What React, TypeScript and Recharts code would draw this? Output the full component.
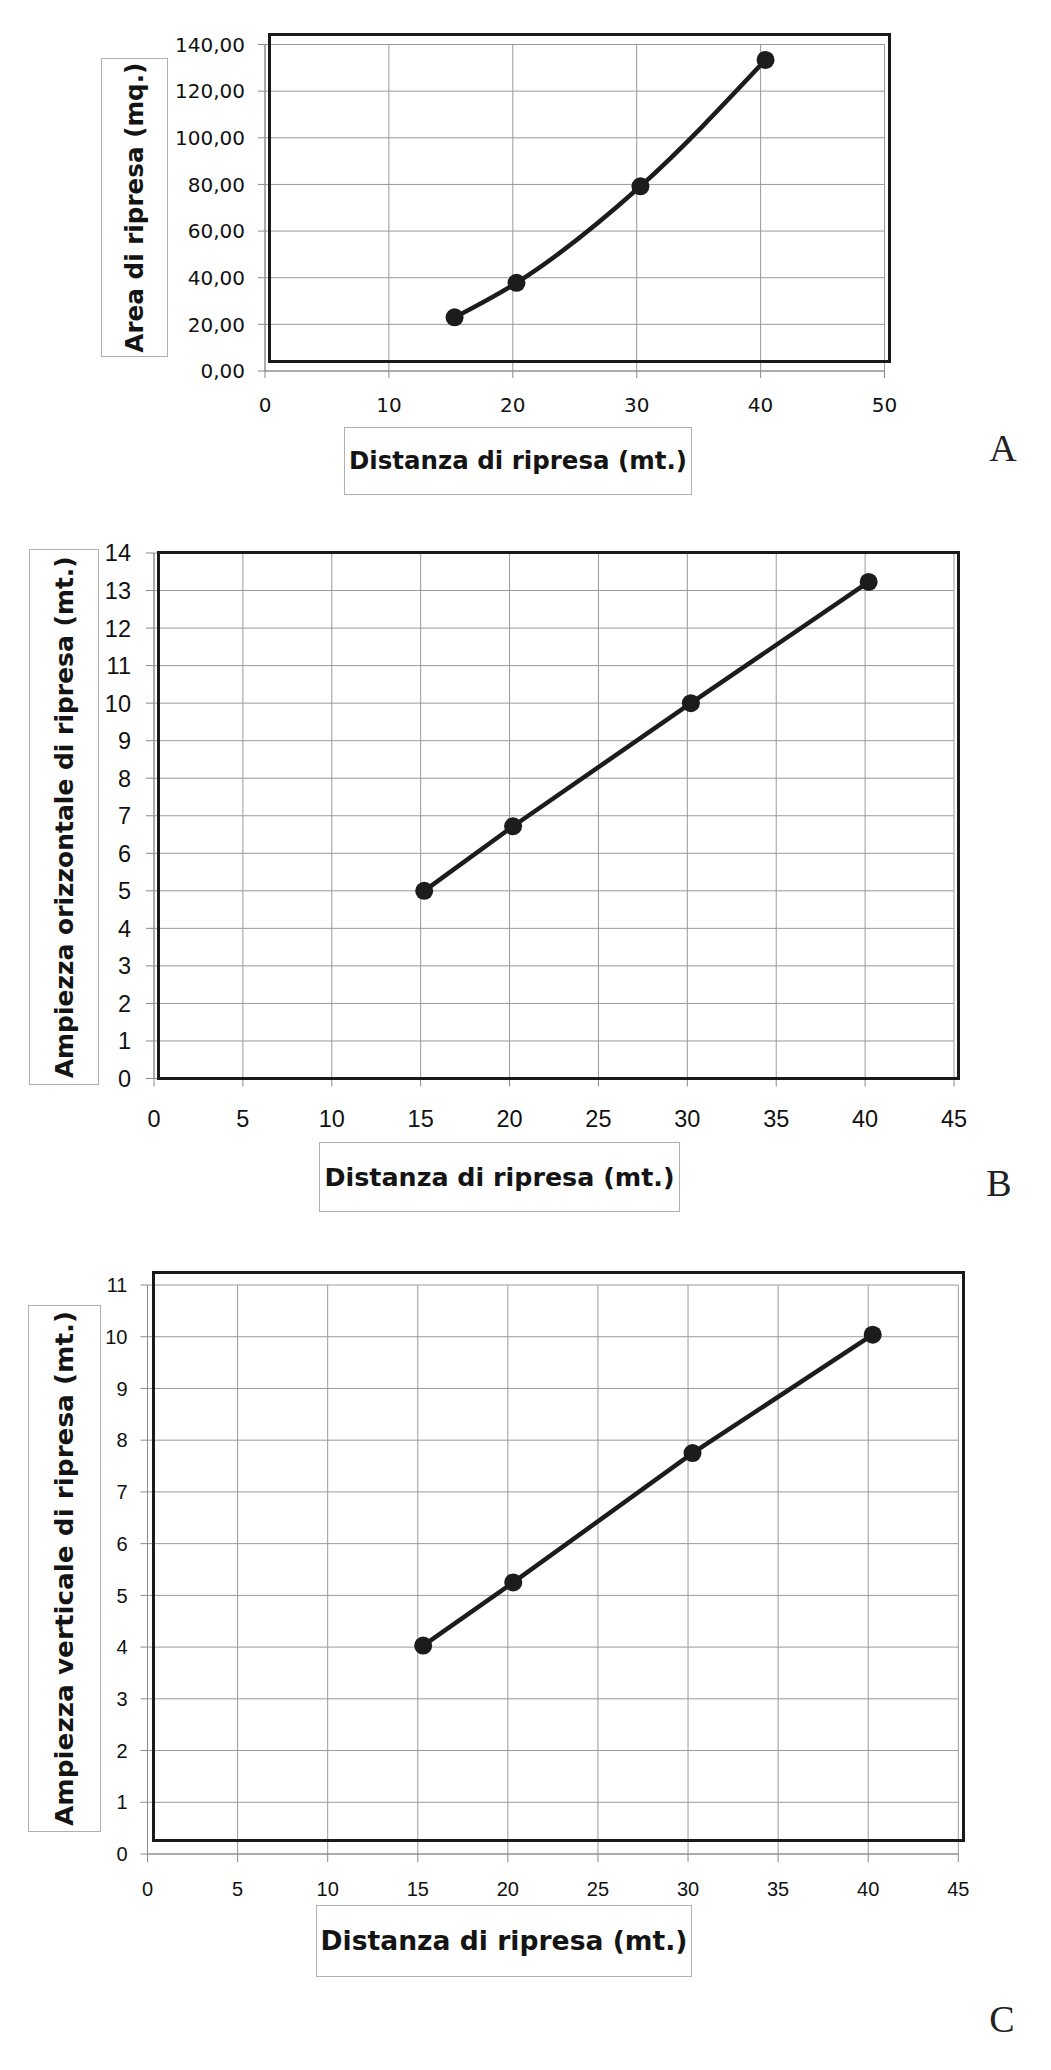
import React from "react"
import { LineChart, Line, XAxis, YAxis, CartesianGrid } from "recharts"

// Chart A: area vs distance
const distanceA = [15.3, 20.3, 30.3, 40.4]
const areaA = [23.0, 37.8, 79.2, 133.4]
const ticksAX = [0, 10, 20, 30, 40, 50]
const ticksAY = [0, 20, 40, 60, 80, 100, 120, 140]

// Chart B: horizontal width vs distance
const distanceB = [15.2, 20.2, 30.2, 40.2]
const widthB = [5.0, 6.72, 10.0, 13.23]
const ticksBX = [0, 5, 10, 15, 20, 25, 30, 35, 40, 45]
const ticksBY = [0, 1, 2, 3, 4, 5, 6, 7, 8, 9, 10, 11, 12, 13, 14]

// Chart C: vertical height vs distance
const distanceC = [15.3, 20.3, 30.25, 40.25]
const heightC = [4.03, 5.25, 7.75, 10.04]
const ticksCX = [0, 5, 10, 15, 20, 25, 30, 35, 40, 45]
const ticksCY = [0, 1, 2, 3, 4, 5, 6, 7, 8, 9, 10, 11]

const xTitle = "Distanza di ripresa (mt.)"
const titleFont = "'DejaVu Sans', sans-serif"

const toRows = (xs: number[], ys: number[]) => xs.map((x, i) => ({ x, y: ys[i] }))

function YTick({ x, y, payload, fmt, family, size }: any) {
    return (
        <text x={x} y={y} dy={size * 0.36} textAnchor="end" fontFamily={family} fontSize={size} fill="#111">
            {fmt ? fmt(payload.value) : payload.value}
        </text>
    )
}

function XTick({ x, y, payload, family, size, shift }: any) {
    return (
        <text x={x} y={y + shift} dy={size * 0.36} textAnchor="middle" fontFamily={family} fontSize={size} fill="#111">
            {payload.value}
        </text>
    )
}

interface PanelProps {
    top: number
    height: number
    x0: number
    x1: number
    yTop: number
    yBot: number
    rows: { x: number; y: number }[]
    xTicks: number[]
    yTicks: number[]
    curve: "monotone" | "linear"
    tickFamily: string
    tickSize: number
    yTickLen: number
    yTickGap: number
    xTickLen: number
    xLabelCenter: number
    yFmt?: (v: number) => string
}

function Panel(p: PanelProps) {
    const yw = 90
    const xh = 60
    const plotTop = p.yTop - p.top
    const plotBot = p.yBot - p.top
    return (
        <div style={{ position: "absolute", left: 0, top: p.top }}>
            <LineChart
                width={1051}
                height={p.height}
                data={p.rows}
                margin={{ top: plotTop, bottom: p.height - plotBot - xh, left: p.x0 - yw, right: 1051 - p.x1 }}
            >
                <CartesianGrid stroke="#9a9a9a" strokeWidth={1} />
                <XAxis
                    type="number"
                    dataKey="x"
                    domain={[p.xTicks[0], p.xTicks[p.xTicks.length - 1]]}
                    ticks={p.xTicks}
                    height={xh}
                    stroke="#8a8a8a"
                    tickSize={p.xTickLen}
                    tickMargin={0}
                    interval={0}
                    tick={(t: any) => (
                        <XTick {...t} family={p.tickFamily} size={p.tickSize} shift={p.xLabelCenter - p.xTickLen} />
                    )}
                />
                <YAxis
                    type="number"
                    domain={[p.yTicks[0], p.yTicks[p.yTicks.length - 1]]}
                    ticks={p.yTicks}
                    width={yw}
                    stroke="#8a8a8a"
                    tickSize={p.yTickLen}
                    tickMargin={p.yTickGap}
                    interval={0}
                    tick={(t: any) => <YTick {...t} family={p.tickFamily} size={p.tickSize} fmt={p.yFmt} />}
                />
                <Line
                    type={p.curve}
                    dataKey="y"
                    stroke="#1c1c1c"
                    strokeWidth={4.5}
                    dot={{ r: 9, fill: "#1c1c1c", stroke: "#1c1c1c", strokeWidth: 0 }}
                    activeDot={false}
                    isAnimationActive={false}
                />
            </LineChart>
        </div>
    )
}

function Frame({ l, t, r, b }: { l: number; t: number; r: number; b: number }) {
    return (
        <div
            style={{
                position: "absolute",
                left: l - 1.5,
                top: t - 1.5,
                width: r - l + 3,
                height: b - t + 3,
                border: "3px solid #1a1a1a",
                boxSizing: "border-box",
                pointerEvents: "none",
            }}
        />
    )
}

interface TitleProps {
    l: number
    t: number
    r: number
    b: number
    text: string
    len: number
    fs: number
    vertical?: boolean
}

function TitleBox({ l, t, r, b, text, len, fs, vertical }: TitleProps) {
    const w = r - l
    const h = b - t
    return (
        <div
            style={{
                position: "absolute",
                left: l,
                top: t,
                width: w,
                height: h,
                border: "1px solid #b0b0b0",
                boxSizing: "border-box",
                background: "#fff",
            }}
        >
            <svg width={w - 2} height={h - 2} style={{ display: "block", overflow: "visible" }}>
                <text
                    transform={`translate(${(w - 2) / 2},${(h - 2) / 2})${vertical ? " rotate(-90)" : ""}`}
                    dy={fs * 0.34}
                    textAnchor="middle"
                    fontFamily={titleFont}
                    fontWeight="bold"
                    fontSize={fs}
                    fill="#141414"
                    textLength={len}
                    lengthAdjust="spacingAndGlyphs"
                >
                    {text}
                </text>
            </svg>
        </div>
    )
}

function Letter({ x, y, ch }: { x: number; y: number; ch: string }) {
    return (
        <div
            style={{
                position: "absolute",
                left: x - 30,
                top: y - 30,
                width: 60,
                height: 60,
                lineHeight: "60px",
                textAlign: "center",
                fontFamily: "'Liberation Serif', serif",
                fontSize: 38,
                color: "#222",
            }}
        >
            {ch}
        </div>
    )
}

export default function App() {
    return (
        <div style={{ position: "absolute", left: 0, top: 0, width: 1051, height: 2070, background: "#fff" }}>
            <Panel
                top={0}
                height={440}
                x0={265}
                x1={884.5}
                yTop={44.5}
                yBot={371}
                rows={toRows(distanceA, areaA)}
                xTicks={ticksAX}
                yTicks={ticksAY}
                curve="monotone"
                tickFamily="'DejaVu Sans', sans-serif"
                tickSize={20}
                yTickLen={7}
                yTickGap={13}
                xTickLen={7}
                xLabelCenter={34}
                yFmt={(v) => v.toFixed(2).replace(".", ",")}
            />
            <Frame l={269.4} t={34.7} r={889.2} b={361.7} />
            <TitleBox l={100.5} t={58} r={168} b={357.3} text="Area di ripresa (mq.)" len={290} fs={24} vertical />
            <TitleBox l={344} t={427} r={692} b={495} text={xTitle} len={338} fs={24} />
            <Letter x={1003} y={448} ch="A" />

            <Panel
                top={515}
                height={625}
                x0={154}
                x1={954}
                yTop={553}
                yBot={1078.5}
                rows={toRows(distanceB, widthB)}
                xTicks={ticksBX}
                yTicks={ticksBY}
                curve="linear"
                tickFamily="'Liberation Sans', Arial, sans-serif"
                tickSize={23.5}
                yTickLen={8}
                yTickGap={15}
                xTickLen={8}
                xLabelCenter={40}
            />
            <Frame l={158.5} t={552.5} r={958.4} b={1078.5} />
            <TitleBox
                l={28.5}
                t={548.5}
                r={99}
                b={1085}
                text="Ampiezza orizzontale di ripresa (mt.)"
                len={522}
                fs={24.5}
                vertical
            />
            <TitleBox l={319} t={1142} r={680} b={1212} text={xTitle} len={350} fs={25} />
            <Letter x={999} y={1183} ch="B" />

            <Panel
                top={1250}
                height={670}
                x0={147.5}
                x1={958.3}
                yTop={1285}
                yBot={1854}
                rows={toRows(distanceC, heightC)}
                xTicks={ticksCX}
                yTicks={ticksCY}
                curve="linear"
                tickFamily="'Liberation Sans', Arial, sans-serif"
                tickSize={20}
                yTickLen={7}
                yTickGap={13}
                xTickLen={8}
                xLabelCenter={34.5}
            />
            <Frame l={153.5} t={1272.3} r={963.2} b={1841} />
            <TitleBox
                l={28}
                t={1305}
                r={100.5}
                b={1832}
                text="Ampiezza verticale di ripresa (mt.)"
                len={515}
                fs={25.5}
                vertical
            />
            <TitleBox l={316} t={1905} r={692} b={1977} text={xTitle} len={367} fs={26} />
            <Letter x={1002} y={2019} ch="C" />
        </div>
    )
}
